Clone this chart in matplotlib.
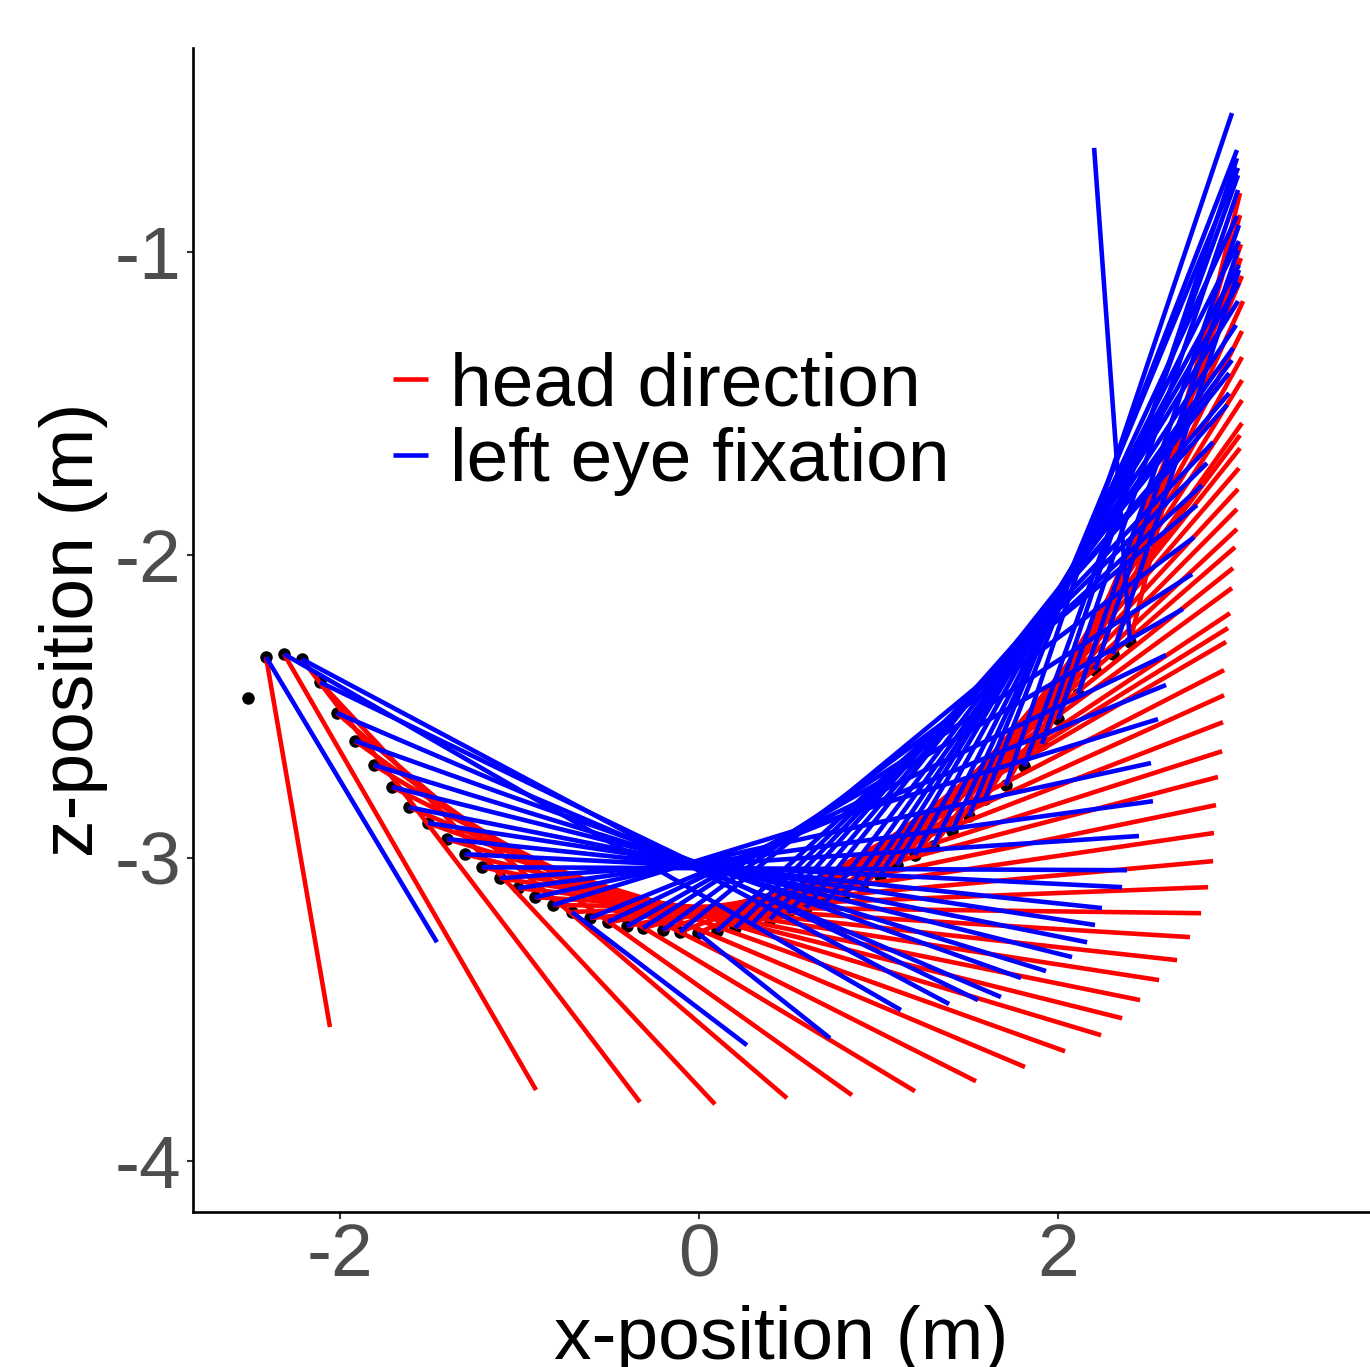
import matplotlib
matplotlib.use('Agg')
import matplotlib.pyplot as plt

# walked trajectory (m)
pos_x = [-2.513, -2.412, -2.312, -2.212, -2.111, -2.017, -1.916, -1.811, -1.710, -1.616,
         -1.510, -1.404, -1.304, -1.209, -1.109, -1.008, -0.914, -0.813, -0.708, -0.607,
         -0.507, -0.401, -0.312, -0.201, -0.106, -0.006, 0.100, 0.201, 0.295, 0.396,
         0.496, 0.596, 0.708, 0.808, 0.908, 1.008, 1.103, 1.203, 1.304, 1.409,
         1.504, 1.593, 1.710, 1.811, 1.911, 2.000, 2.111, 2.206, 2.306, 2.401]
pos_z = [-2.472, -2.337, -2.327, -2.344, -2.420, -2.522, -2.614, -2.694, -2.766, -2.833,
         -2.885, -2.938, -2.988, -3.031, -3.067, -3.100, -3.130, -3.156, -3.179, -3.199,
         -3.212, -3.226, -3.232, -3.239, -3.245, -3.249, -3.242, -3.232, -3.219, -3.203,
         -3.183, -3.166, -3.146, -3.123, -3.097, -3.060, -3.024, -2.991, -2.961, -2.912,
         -2.862, -2.806, -2.760, -2.697, -2.624, -2.542, -2.459, -2.380, -2.327, -2.287]

# head direction end points (from the 2nd position on)
head_x = [-2.056, -0.908, -0.329, 0.089, 0.490, 0.852, 1.203, 1.543, 1.816, 2.039,
          2.240, 2.357, 2.457, 2.563, 2.663, 2.735, 2.797, 2.836, 2.864, 2.869,
          2.880, 2.891, 2.914, 2.919, 2.925, 2.925, 2.936, 2.947, 2.958, 2.969,
          2.975, 2.986, 2.997, 2.997, 3.003, 3.008, 3.014, 3.014, 3.025, 3.025,
          3.025, 3.025, 3.025, 3.031, 3.025, 3.019, 3.019, 3.014, 3.014]
head_z = [-3.559, -3.767, -3.807, -3.814, -3.794, -3.784, -3.771, -3.738, -3.691, -3.639,
          -3.586, -3.530, -3.470, -3.404, -3.338, -3.262, -3.183, -3.097, -3.011, -2.918,
          -2.826, -2.733, -2.648, -2.552, -2.463, -2.380, -2.287, -2.241, -2.192, -2.109,
          -2.043, -1.974, -1.914, -1.848, -1.782, -1.713, -1.647, -1.604, -1.564, -1.488,
          -1.422, -1.346, -1.260, -1.161, -1.078, -1.019, -0.973, -0.877, -0.804]

# left eye fixation end points
eye_x = [-1.460, 1.125, 1.393, 1.554, 1.682, 1.794, 1.933, 2.078, 2.162, 2.206,
         2.245, 2.357, 2.384, 2.451, 2.529, 2.518, 2.557, 0.267, 2.602, 2.602,
         2.696, 2.747, 2.758, 2.774, 0.730, 2.802, 2.830, 2.864, 2.942, 2.953,
         2.953, 2.969, 2.975, 2.992, 3.003, 3.008, 3.008, 3.008, 2.997, 3.003,
         2.997, 2.969, 3.003, 2.997, 3.003, 3.008, 3.003, 3.008, 2.201]
eye_z = [-3.279, -3.503, -3.483, -3.470, -3.460, -3.397, -3.374, -3.328, -3.279, -3.222,
         -3.166, -3.097, -3.041, -2.928, -2.813, -2.687, -2.542, -3.619, -2.429, -2.330,
         -2.178, -2.063, -1.941, -1.835, -3.596, -1.769, -1.696, -1.627, -1.504, -1.465,
         -1.399, -1.356, -1.316, -1.240, -1.161, -1.101, -1.042, -0.963, -0.880, -0.721,
         -0.662, -0.540, -0.745, -0.689, -0.794, -0.910, -0.992, -1.058, -0.655]

x_ticks = [-2, 0, 2]
z_ticks = [-4, -3, -2, -1]


def main(fname):
    plt.rcParams['font.family'] = ['Liberation Sans', 'DejaVu Sans']
    plt.rcParams['axes.unicode_minus'] = False

    fig = plt.figure(figsize = (13.7, 13.67), dpi = 100)
    ax = fig.add_axes([193 / 1370, 1 - 1212.3 / 1367, 1 - 193 / 1370, (1212.3 - 48) / 1367])

    ax.plot(pos_x, pos_z, 'o', color = 'black', markersize = 9, markeredgewidth = 0, zorder = 1)

    lw = 3.3
    for i in range(1, len(pos_x)):
        ax.plot([pos_x[i], head_x[i - 1]], [pos_z[i], head_z[i - 1]], color = '#FF0000',
                lw = lw, solid_capstyle = 'butt', zorder = 2,
                label = 'head direction' if i == 1 else None)
    for i in range(1, len(pos_x)):
        ax.plot([pos_x[i], eye_x[i - 1]], [pos_z[i], eye_z[i - 1]], color = '#0000FF',
                lw = lw, solid_capstyle = 'butt', zorder = 3,
                label = 'left eye fixation' if i == 1 else None)

    ax.set_xlim(-2.819, 3.738)
    ax.set_ylim(-4.171, -0.325)
    ax.set_xticks(x_ticks)
    ax.set_yticks(z_ticks)
    for s in ['top', 'right']:
        ax.spines[s].set_visible(False)
    for s in ['left', 'bottom']:
        ax.spines[s].set_linewidth(1.9)
    ax.tick_params(axis = 'both', labelsize = 54, labelcolor = '#4D4D4D', width = 1.5,
                   color = '#333333')
    ax.tick_params(axis = 'y', length = 4.3, pad = 4)
    ax.tick_params(axis = 'x', length = 5, pad = 2)

    ax.set_xlabel('x-position (m)', fontsize = 54, labelpad = 10)
    ax.set_ylabel('z-position (m)', fontsize = 54, labelpad = 5)

    ax.legend(loc = 'center left', bbox_to_anchor = (0.170, 0.677), frameon = False,
              fontsize = 54, handlelength = 0.47, handletextpad = 0.29,
              labelspacing = 0.09, borderpad = 0, borderaxespad = 0)

    fig.savefig(fname, dpi = 100)


if (__name__ == '__main__'):
    main('out.png')
